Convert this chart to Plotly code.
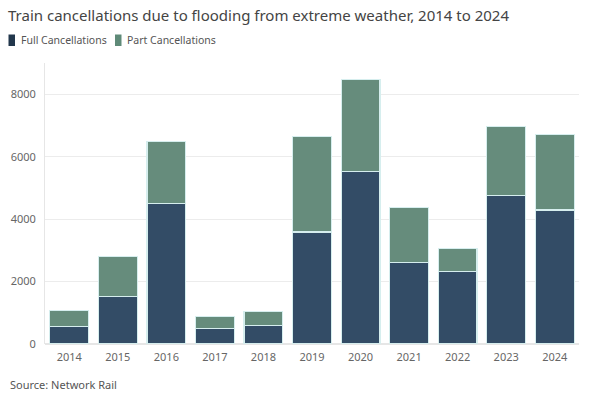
import plotly.graph_objects as go

years = ["2014", "2015", "2016", "2017", "2018", "2019", "2020", "2021", "2022", "2023", "2024"]
full_cancellations = [550, 1520, 4490, 505, 590, 3585, 5530, 2610, 2310, 4750, 4290]
part_cancellations = [520, 1280, 2005, 370, 460, 3070, 2945, 1755, 760, 2225, 2430]
y_ticks = [0, 2000, 4000, 6000, 8000]

FULL = "#334c66"
PART = "#668c7c"
SEP = "#d6eeee"
FONT = "Noto Sans, sans-serif"

W, H = 600, 399
L, R, T, B = 45, 21, 63, 55


def px_x(px):
    return (px - L) / (W - L - R)


def px_y(py):
    return (H - B - py) / (H - T - B)


fig = go.Figure()
fig.add_trace(go.Bar(x=years, y=full_cancellations, name="Full Cancellations",
                     marker=dict(color=FULL, line=dict(color=SEP, width=1.2))))
fig.add_trace(go.Bar(x=years, y=part_cancellations, name="Part Cancellations",
                     marker=dict(color=PART, line=dict(color=SEP, width=1.2))))

# custom legend (matches the reference's compact legend)
legend_items = [("Full Cancellations", "#22374c", 8.5, 18.5),
                ("Part Cancellations", "#5f8a78", 115, 125)]
shapes = []
annotations = []
for name, col, mx, tx in legend_items:
    shapes.append(dict(type="rect", xref="paper", yref="paper",
                       x0=px_x(mx), x1=px_x(mx + 6.5), y0=px_y(46), y1=px_y(34.5),
                       fillcolor=col, line=dict(width=0), layer="above"))
    annotations.append(dict(text=name, xref="paper", yref="paper",
                            x=px_x(tx), xanchor="left", y=px_y(40.5), yanchor="middle",
                            showarrow=False, font=dict(size=10.5, color="#555555", family=FONT)))

annotations.append(dict(text="Source: Network Rail", xref="paper", yref="paper",
                        x=px_x(8), xanchor="left", y=px_y(384.5), yanchor="middle",
                        showarrow=False, font=dict(size=11, color="#555555", family=FONT)))

fig.update_layout(
    width=W, height=H,
    barmode="stack", bargap=0.2,
    plot_bgcolor="white", paper_bgcolor="white",
    margin=dict(l=L, r=R, t=T, b=B, autoexpand=False),
    font=dict(family=FONT, color="#555555", size=11),
    title=dict(text="Train cancellations due to flooding from extreme weather, 2014 to 2024",
               xref="container", x=8 / W, xanchor="left",
               yref="container", y=1 - 15.5 / H, yanchor="middle",
               font=dict(size=15, color="#444444", family=FONT)),
    showlegend=False,
    shapes=shapes,
    annotations=annotations,
)
fig.update_xaxes(showgrid=False, showline=False, ticks="",
                 ticklabelstandoff=5,
                 tickfont=dict(size=11, color="#666666", family=FONT))
fig.update_yaxes(range=[0, 9000], tickvals=y_ticks, showgrid=True, gridcolor="#ececec",
                 gridwidth=1, zeroline=True, zerolinecolor="#e6e6e6", showline=True,
                 linecolor="#e6e6e6", ticks="", ticklabelstandoff=6,
                 tickfont=dict(size=11, color="#666666", family=FONT))

fig.write_html("out.html",
               config={"displayModeBar": False},
               post_script="document.body.style.margin='0';document.body.style.overflow='hidden';")
